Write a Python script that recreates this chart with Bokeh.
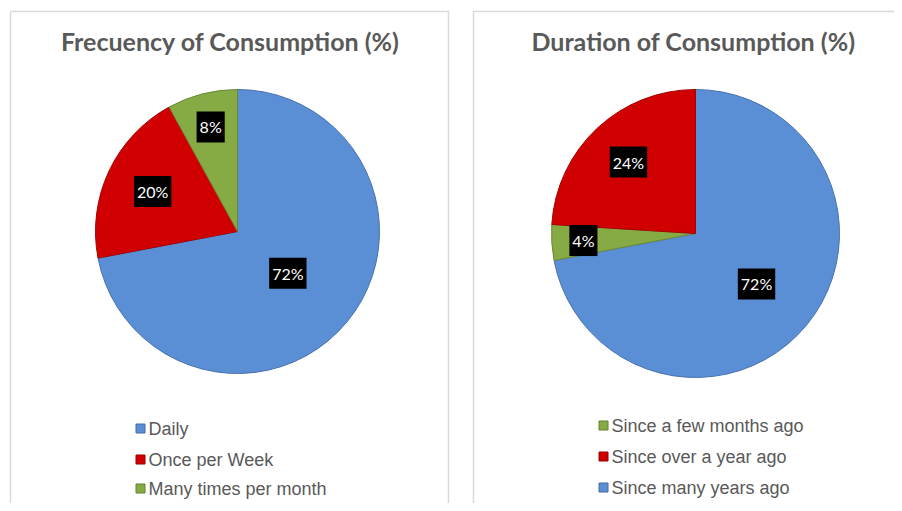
import numpy as np
from bokeh.plotting import figure
from bokeh.models import Range1d, ColumnDataSource
from bokeh.core.properties import value
from bokeh.embed import file_html
from bokeh.resources import INLINE

# ---------------- data ----------------
freq_title = "Frecuency of Consumption (%)"
freq_labels = ["Daily", "Once per Week", "Many times per month"]
freq_values = [72, 20, 8]
freq_colors = ["#5a8fd6", "#d00000", "#86ab45"]
freq_pie_order = [0, 1, 2]          # clockwise from 12 o'clock
freq_label_frac = [0.46, 0.66, 0.76]

dur_title = "Duration of Consumption (%)"
dur_labels = ["Since a few months ago", "Since over a year ago", "Since many years ago"]
dur_values = [4, 24, 72]
dur_colors = ["#86ab45", "#d00000", "#5a8fd6"]
dur_pie_order = [2, 0, 1]           # clockwise from 12 o'clock
dur_label_frac = [0.78, 0.68, 0.55]

# ---------------- figure (1 data unit = 1 px, y up) ----------------
W, H = 894, 503
p = figure(width=W, height=H, x_range=Range1d(0, W), y_range=Range1d(0, H),
           output_backend="svg", toolbar_location=None, min_border=0)
p.axis.visible = False
p.grid.visible = False
p.outline_line_color = None
p.background_fill_color = "white"
p.border_fill_color = "white"

def Y(ypx):
    return H - ypx

TXT = "#595959"

def darker(hexc, f=0.8):
    h = hexc.lstrip("#")
    r, g, b = (int(h[i:i + 2], 16) for i in (0, 2, 4))
    return "#%02x%02x%02x" % (int(r * f), int(g * f), int(b * f))

def panel(left, right, title, tx, labels, values, colors, order, fracs,
          cx, cy, r, leg_x, leg_ys, leg_order):
    # panel border
    p.quad(left=[left], right=[right], top=[Y(11)], bottom=[Y(509)],
           fill_color=None, line_color="#d9d9d9", line_width=1.5)
    # title
    p.text(x=[tx], y=[Y(40)], text=[title], text_font=value("Lato"),
           text_font_style="bold", text_font_size="25px", text_color=TXT,
           text_align="center", text_baseline="middle")
    total = float(sum(values))
    cum = 0.0
    starts, ends, cols, lcols = [], [], [], []
    lx, ly, lt = [], [], []
    for idx in order:
        frac = values[idx] / total
        a0 = np.pi / 2 - 2 * np.pi * cum
        a1 = np.pi / 2 - 2 * np.pi * (cum + frac)
        mid = (a0 + a1) / 2
        starts.append(a0)
        ends.append(a1)
        cols.append(colors[idx])
        lcols.append(darker(colors[idx]))
        lx.append(cx + fracs[idx] * r * np.cos(mid))
        ly.append(Y(cy) + fracs[idx] * r * np.sin(mid))
        lt.append("%d%%" % values[idx])
        cum += frac
    src = ColumnDataSource(dict(s=starts, e=ends, c=cols, lc=lcols))
    p.wedge(x=cx, y=Y(cy), radius=r, start_angle="s", end_angle="e",
            direction="clock", fill_color="c", line_color="lc",
            line_width=1, source=src)
    # data labels (white on black boxes)
    p.text(x=lx, y=ly, text=lt, text_font=value("Lato"), text_font_size="16px",
           text_color="white", text_align="center", text_baseline="middle",
           background_fill_color="black", padding=(3, 6))
    # legend
    for row, idx in enumerate(leg_order):
        yy = Y(leg_ys[row])
        p.scatter(x=[leg_x], y=[yy], marker="square", size=9,
                  fill_color=colors[idx], line_color=darker(colors[idx], 0.75))
        p.text(x=[leg_x + 8], y=[yy], text=[labels[idx]],
               text_font=value("Liberation Sans"), text_font_size="18px",
               text_color=TXT, text_align="left", text_baseline="middle")

panel(10, 448, freq_title, 230, freq_labels, freq_values, freq_colors,
      freq_pie_order, freq_label_frac, 237, 231, 142,
      140, [428, 459, 488], [0, 1, 2])
panel(473, 915, dur_title, 693, dur_labels, dur_values, dur_colors,
      dur_pie_order, dur_label_frac, 695, 233, 144,
      603, [425, 456, 487], [0, 1, 2])

open("out.html", "w").write(file_html(p, INLINE))
